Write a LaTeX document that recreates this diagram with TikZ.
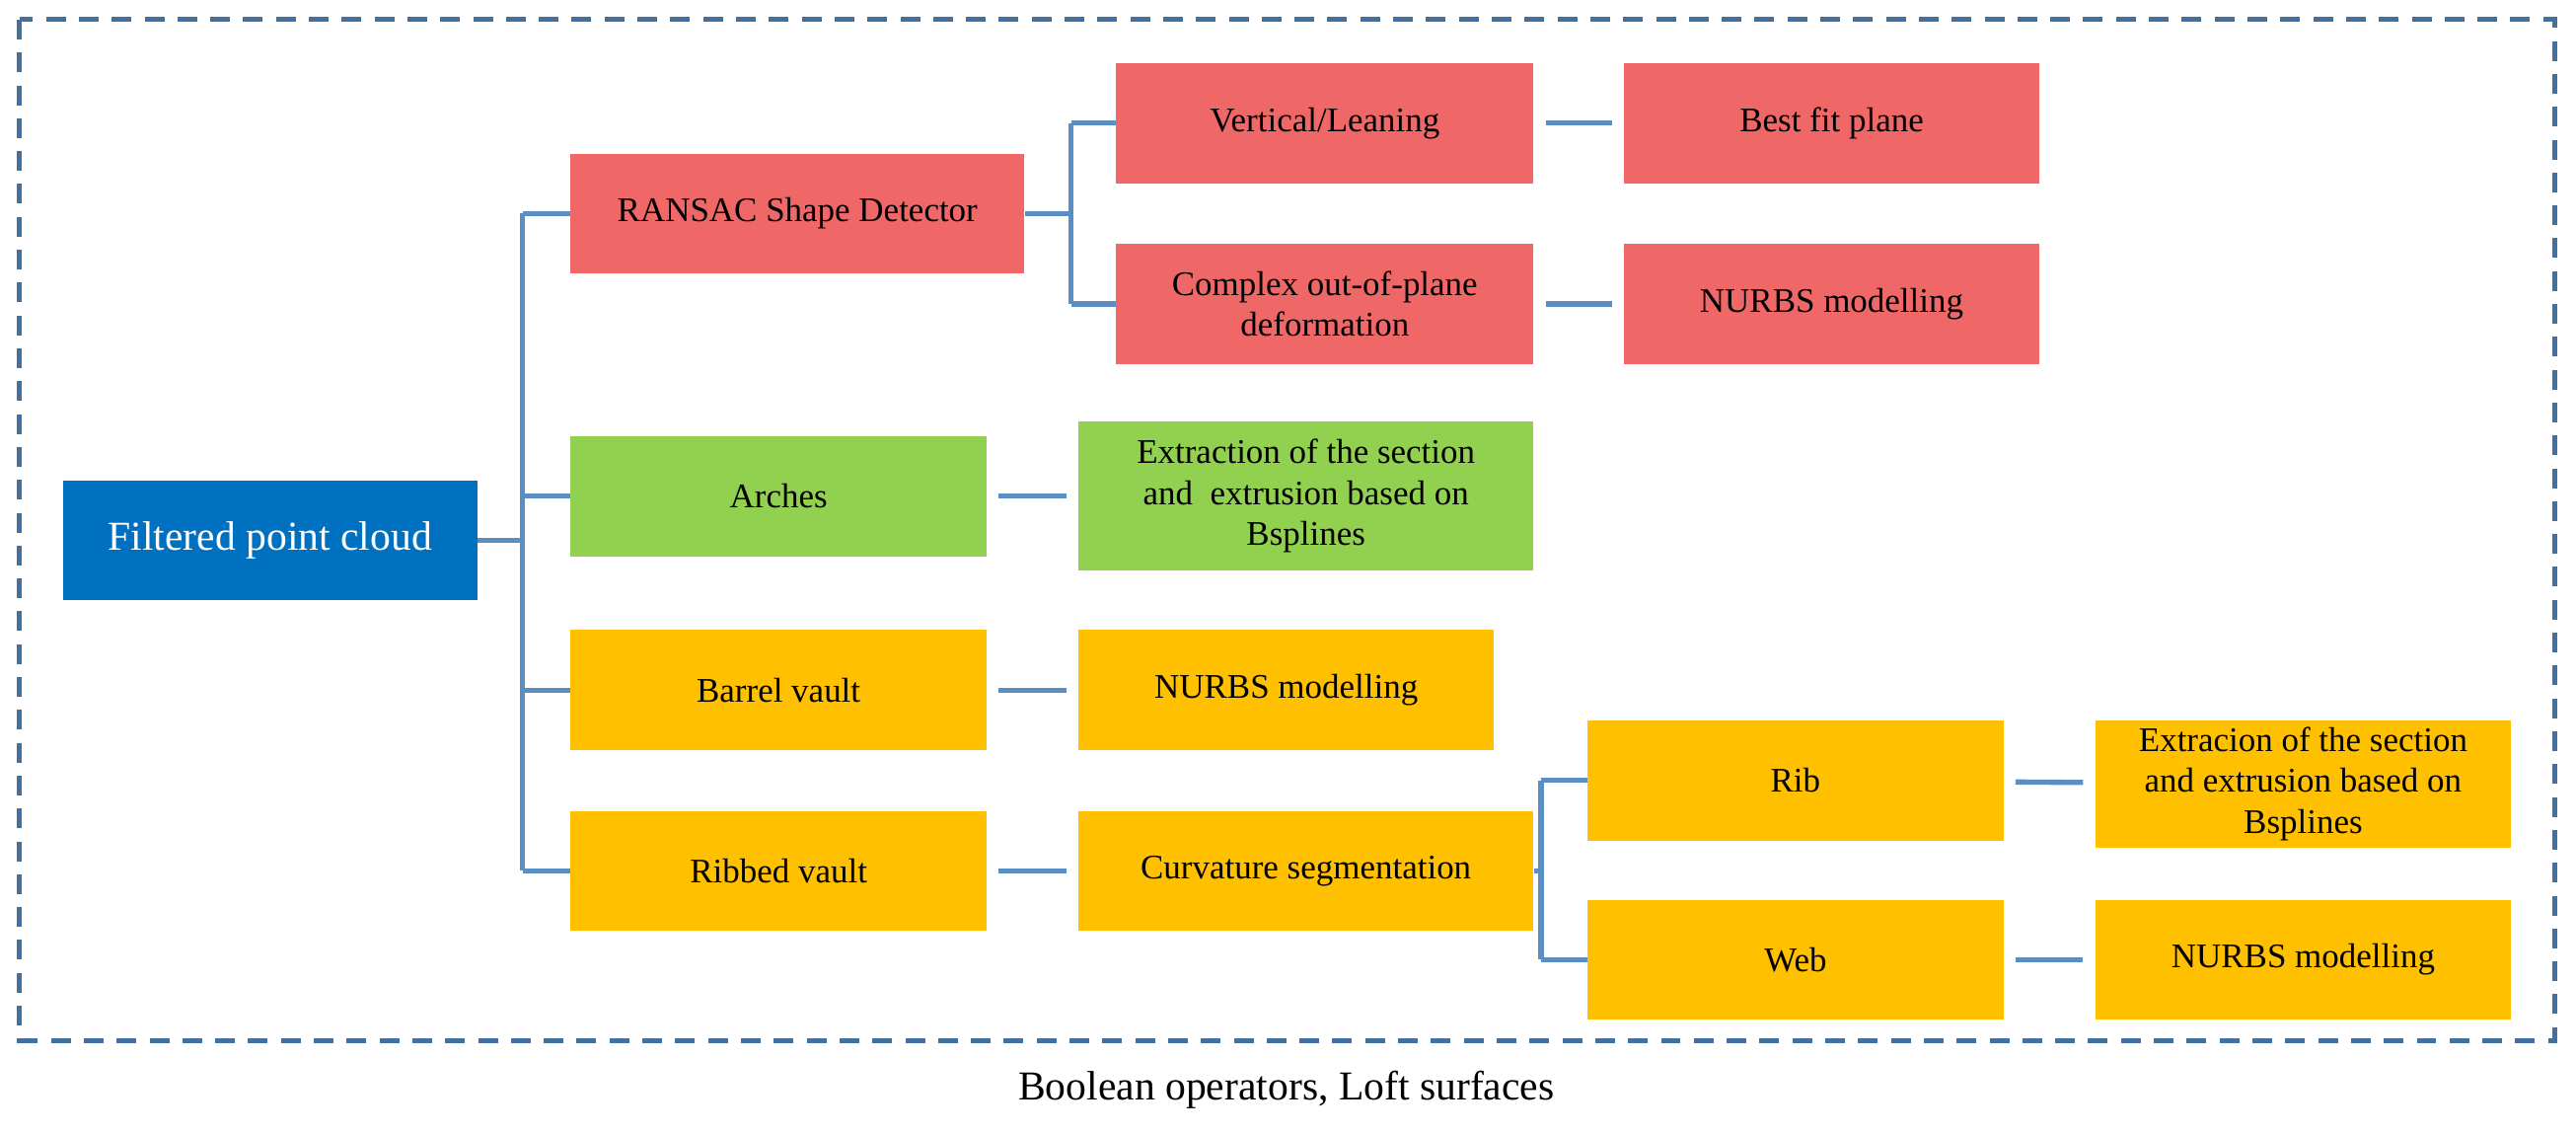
\documentclass[tikz,border=0pt]{standalone}
\usepackage{fontspec}
\setmainfont{Liberation Serif}
\begin{document}
\begin{tikzpicture}[x=0.5pt,y=-0.5pt,
 box/.style={draw=none,minimum width=#1*0.5pt,minimum height=73*0.5pt,anchor=north west,inner sep=2pt,align=center,font=\fontsize{10.5}{12.5}\selectfont},
 red/.style={fill=rd},grn/.style={fill=gn},org/.style={fill=og},
 link/.style={draw=ln,line width=1.6pt}]
\definecolor{rd}{HTML}{F06767}\definecolor{gn}{HTML}{92D050}\definecolor{og}{HTML}{FFC000}
\definecolor{bl}{HTML}{0070C0}\definecolor{ln}{HTML}{5B8FC4}\definecolor{fr}{HTML}{41719C}
\useasboundingbox (0,0) rectangle (1568,690);
\draw[fr,line width=1.5pt,dash pattern=on 6pt off 4pt] (12,12) rectangle (1555,633);
\node[box=252,fill=bl,text=white,font=\fontsize{12.5}{15}\selectfont] (fpc) at (38,292) {Filtered point cloud};
\node[box=276,red] (ran) at (347,93) {RANSAC Shape Detector};
\node[box=254,red] (ver) at (679,38) {Vertical/Leaning};
\node[box=253,red] (bfp) at (988,38) {Best fit plane};
\node[box=254,red] (cmp) at (679,148) {Complex out-of-plane\\deformation};
\node[box=253,red] (nu1) at (988,148) {NURBS modelling};
\node[box=253,grn] (arc) at (347,265) {Arches};
\node[box=277,grn,minimum height=91*0.5pt] (ext) at (656,256) {Extraction of the section\\and \ extrusion based on\\Bsplines};
\node[box=253,org] (bar) at (347,383) {Barrel vault};
\node[box=253,org] (nu2) at (656,383) {NURBS modelling};
\node[box=253,org] (rbv) at (347,493) {Ribbed vault};
\node[box=277,org] (cur) at (656,493) {Curvature segmentation};
\node[box=253,org] (rib) at (966,438) {Rib};
\node[box=253,org] (exr) at (1275,438) {Extracion of the section\\and extrusion based on\\Bsplines};
\node[box=253,org] (web) at (966,547) {Web};
\node[box=253,org] (nu3) at (1275,547) {NURBS modelling};
\node[font=\fontsize{12.5}{15}\selectfont] (cap) at (783,663) {Boolean operators, Loft surfaces};
% trunk
\coordinate (t) at (318,0);
\draw[link] (fpc.east) -- (fpc.east -| t);
\draw[link] (ran.west -| t) -- (rbv.west -| t);
\foreach \n in {ran,arc,bar,rbv} \draw[link] (\n.west -| t) -- (\n.west);
\coordinate (r) at (652,0);
\draw[link] (ver.west -| r) -- (cmp.west -| r);
\draw[link] (ran.east) -- (ran.east -| r);
\foreach \n in {ver,cmp} \draw[link] (\n.west -| r) -- (\n.west);
\coordinate (c) at (938,0);
\draw[link] (rib.west -| c) -- (web.west -| c);
\draw[link] (cur.east) -- (cur.east -| c);
\foreach \n in {rib,web} \draw[link] (\n.west -| c) -- (\n.west);
\draw[link,shorten <=7pt/2,shorten >=7pt/2] (ver) -- (bfp);
\draw[link,shorten <=7pt/2,shorten >=7pt/2] (cmp) -- (nu1);
\draw[link,shorten <=7pt/2,shorten >=7pt/2] (arc) -- (ext);
\draw[link,shorten <=7pt/2,shorten >=7pt/2] (bar) -- (nu2);
\draw[link,shorten <=7pt/2,shorten >=7pt/2] (rbv) -- (cur);
\draw[link,shorten <=7pt/2,shorten >=7pt/2] (rib) -- (exr);
\draw[link,shorten <=7pt/2,shorten >=7pt/2] (web) -- (nu3);
\end{tikzpicture}
\end{document}
